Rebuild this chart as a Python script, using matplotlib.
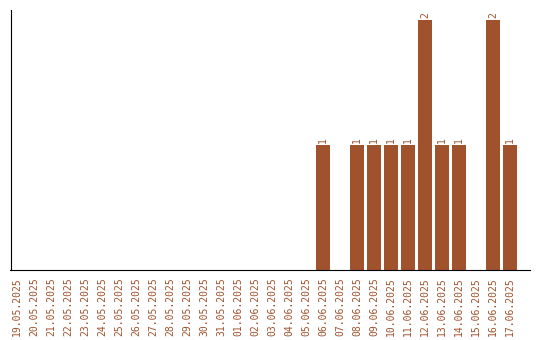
import matplotlib
matplotlib.use('Agg')
import matplotlib.pyplot as plt

# dates and counts
dates = ['19.05.2025', '20.05.2025', '21.05.2025', '22.05.2025', '23.05.2025',
         '24.05.2025', '25.05.2025', '26.05.2025', '27.05.2025', '28.05.2025',
         '29.05.2025', '30.05.2025', '31.05.2025', '01.06.2025', '02.06.2025',
         '03.06.2025', '04.06.2025', '05.06.2025', '06.06.2025', '07.06.2025',
         '08.06.2025', '09.06.2025', '10.06.2025', '11.06.2025', '12.06.2025',
         '13.06.2025', '14.06.2025', '15.06.2025', '16.06.2025', '17.06.2025']
counts = [0, 0, 0, 0, 0, 0, 0, 0, 0, 0,
          0, 0, 0, 0, 0, 0, 0, 0, 1, 0,
          1, 1, 1, 1, 2, 1, 1, 0, 2, 1]

color = '#a0522d'

fig = plt.figure(figsize=(5.4, 3.4), dpi=100)
ax = fig.add_axes([10.5 / 540, 70 / 340, 519.5 / 540, 260 / 340])

x = list(range(len(dates)))
ax.bar(x, counts, width=0.82, color=color)

# value labels above non-zero bars
for xi, c in zip(x, counts):
    if c > 0:
        ax.text(xi, c + 0.02, str(c), rotation=90, ha='center', va='bottom',
                color=color, fontsize=7, family='DejaVu Sans Mono')

ax.set_xlim(-0.38, 30.18)
ax.set_ylim(0, 2.08)
ax.set_xticks(x)
ax.set_xticklabels(dates, rotation=90, color=color, fontsize=7,
                   family='DejaVu Sans Mono')
ax.tick_params(axis='x', length=0, pad=5)
ax.set_yticks([])
ax.spines['top'].set_visible(False)
ax.spines['right'].set_visible(False)

fig.savefig('out.png', dpi=100)
